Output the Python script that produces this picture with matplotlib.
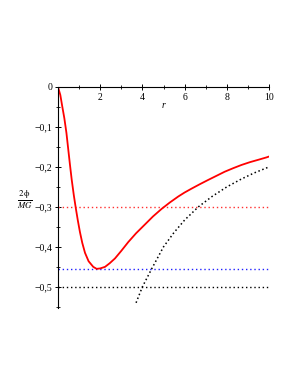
import numpy as np
import matplotlib.pyplot as plt

# values
r_red = [0, 0.11, 0.19, 0.30, 0.40, 0.49, 0.57, 0.65, 0.75, 0.84, 0.94, 1.04,
         1.15, 1.28, 1.45, 1.67, 1.83, 2.0, 2.23, 2.45, 2.70, 3.0, 3.33, 3.7,
         4.12, 4.5, 4.91, 5.3, 5.70, 6.0, 6.34, 6.73, 7.1, 7.52, 7.9, 8.31,
         8.7, 9.1, 9.5, 9.89, 10]
phi_red = [0, -0.020, -0.045, -0.078, -0.115, -0.158, -0.196, -0.232, -0.271,
           -0.302, -0.334, -0.363, -0.390, -0.415, -0.436, -0.450, -0.455,
           -0.454, -0.450, -0.441, -0.429, -0.410, -0.388, -0.366, -0.344,
           -0.324, -0.305, -0.289, -0.274, -0.264, -0.254, -0.243, -0.233,
           -0.222, -0.212, -0.203, -0.195, -0.188, -0.182, -0.176, -0.174]

r_kep = [3.7, 4.0, 4.44, 5.0, 5.5, 6.0, 6.65, 7.3, 8.0, 8.7, 9.3, 10]
phi_kep = [-0.54, -0.5, -0.455, -0.4, -0.364, -0.333, -0.3, -0.274, -0.25, -0.23, -0.215, -0.2]

h_levels = [-0.3, -0.455, -0.5]
h_colors = ['#ff3030', '#2020ff', 'black']

xticks = [2, 4, 6, 8, 10]
yticks = [-0.1, -0.2, -0.3, -0.4, -0.5]
ytick_labels = ['\u22120,1', '\u22120,2', '\u22120,3', '\u22120,4', '\u22120,5']

plt.rcParams['font.family'] = ['Liberation Serif', 'DejaVu Serif']
plt.rcParams['mathtext.fontset'] = 'stix'

fig = plt.figure(figsize=(2.95, 3.82), dpi=100)
ax = fig.add_axes([58/295, 74/382, 211/295, 221/382])

for lev, col in zip(h_levels, h_colors):
    ax.plot([0, 10], [lev, lev], color=col, lw=1.0, ls=(0, (1, 2.0)))

ax.plot(r_kep, phi_kep, color='black', lw=1.1, ls=(0, (1, 1.7)))
ax.plot(r_red, phi_red, color='red', lw=1.3, solid_joinstyle='round')

ax.set_xlim(0, 10)
ax.set_ylim(-0.553, 0)

ax.spines['bottom'].set_position(('data', 0))
ax.spines['top'].set_visible(False)
ax.spines['right'].set_visible(False)
for s in ['bottom', 'left']:
    ax.spines[s].set_linewidth(0.8)

ax.set_xticks(xticks)
ax.set_xticks([1, 3, 5, 7, 9], minor=True)
ax.set_yticks([0] + yticks)
ax.set_yticklabels(['0'] + ytick_labels)
ax.set_yticks([-0.05, -0.15, -0.25, -0.35, -0.45, -0.55], minor=True)
ax.tick_params(which='major', direction='inout', length=4, width=0.7, labelsize=7, pad=2)
ax.tick_params(which='minor', direction='inout', length=2.5, width=0.6)
ax.set_facecolor('none')

ax.text(5, -0.047, 'r', fontsize=7, style='italic', ha='center', va='center')
fig.text(25/295, 1 - 200/382, r'$\frac{2\,\mathrm{\phi}}{MG}$', fontsize=9, ha='center', va='center')

fig.savefig('out.png', dpi=100)
